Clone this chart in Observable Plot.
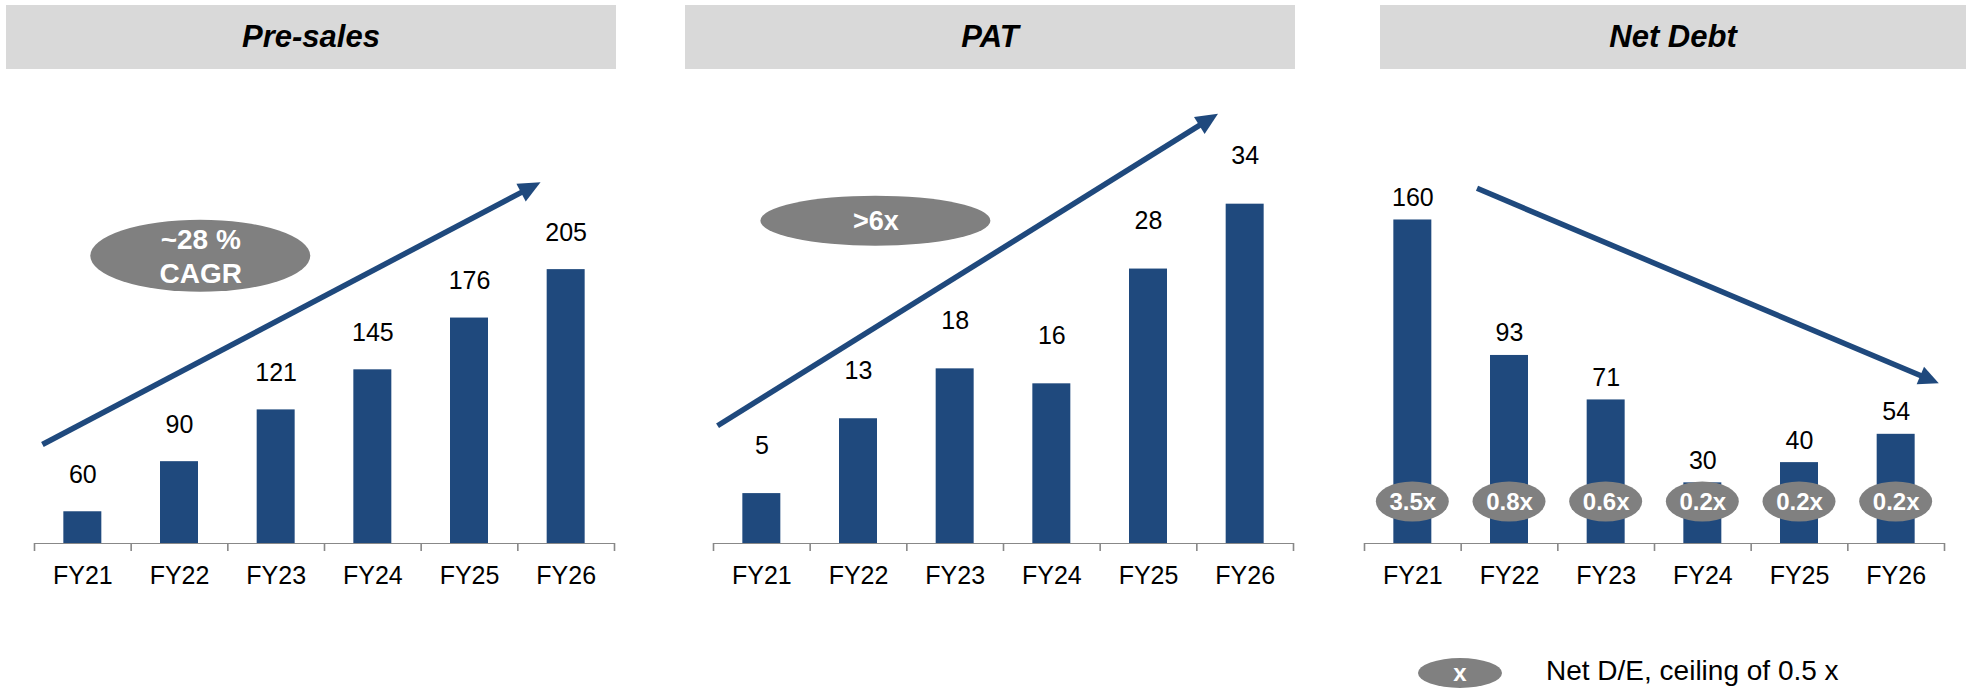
<!DOCTYPE html>
<html>
<head>
<meta charset="utf-8">
<script src="https://cdn.jsdelivr.net/npm/d3@7"></script>
<script src="https://cdn.jsdelivr.net/npm/@observablehq/plot@0.6"></script>
<style>
  html, body { margin: 0; padding: 0; background: #fff; }
  body { width: 1966px; height: 688px; position: relative; overflow: hidden;
         font-family: "Liberation Sans", Arial, sans-serif; }
  .hdr { position: absolute; top: 5px; height: 64px; background: #d9d9d9;
         display: flex; align-items: center; justify-content: center;
         font: italic bold 31px "Liberation Sans", Arial, sans-serif; color: #000; }
  .panel { position: absolute; top: 80px; }
  .panel svg { overflow: visible; }
  .panel svg [aria-label^="x-axis"] { stroke-width: 1.6px; }
  .legend-badge { position: absolute; left: 1418px; top: 658px; width: 84px; height: 30px;
         border-radius: 50%; background: #808080; color: #fff; font: bold 24px "Liberation Sans", Arial, sans-serif;
         display: flex; align-items: center; justify-content: center; }
  .legend-text { position: absolute; left: 1546px; top: 655px; font: 28px "Liberation Sans", Arial, sans-serif; color: #000; white-space: nowrap; }
</style>
</head>
<body>
<div class="hdr" style="left:6px;width:610px;">Pre-sales</div>
<div class="hdr" style="left:685px;width:610px;">PAT</div>
<div class="hdr" style="left:1380px;width:586px;">Net Debt</div>
<div id="p1" class="panel" style="left:0px;"></div>
<div id="p2" class="panel" style="left:655px;"></div>
<div id="p3" class="panel" style="left:1310px;"></div>
<div class="legend-badge">x</div>
<div class="legend-text">Net D/E, ceiling of 0.5 x</div>
<script>
// ---------- data ----------
const years = ["FY21", "FY22", "FY23", "FY24", "FY25", "FY26"];
const presales = [60, 90, 121, 145, 176, 205];
const pat = [5, 12.5, 17.5, 16, 27.5, 34];
const netDebt = [160, 93, 71, 30, 40, 54];
const netDE = [3.5, 0.8, 0.6, 0.2, 0.2, 0.2];
const presalesBadge = ["~28 %", "CAGR"];
const patBadge = [">6x"];

// annotation anchors (data units: x = year index, y = value)
const presalesArrow = [{x1: 0.087, y1: 100, x2: 5.24, y2: 257}];
const patArrow = [{x1: 0.047, y1: 11.75, x2: 5.224, y2: 43.0}];
const debtArrow = [{x1: 1.169, y1: 175.4, x2: 5.946, y2: 79}];
const presalesBadgePos = [{x: 1.72, y: 213}];
const patBadgePos = [{x: 1.68, y: 32.3}];

// ---------- styles ----------
const BAR = "#1F497D";
const GREY = "#808080";
const FONT = "Liberation Sans, Arial, sans-serif";

function pickScales(a, b) {
  return (b && typeof b.x === "function") ? b : a;
}

function ellipseMark(data, {x, y, rx, ry, dy = 0, fill = GREY}) {
  return (index, scales) => {
    const sc = pickScales(index, scales);
    const g = d3.create("svg:g");
    data.forEach((d, i) => {
      g.append("ellipse")
        .attr("cx", sc.x(x(d, i)))
        .attr("cy", sc.y(y(d, i)) + dy)
        .attr("rx", rx).attr("ry", ry)
        .attr("fill", fill);
    });
    return g.node();
  };
}

function arrowMark(data, {color = BAR, strokeWidth = 5.5, headLength = 22, headWidth = 20}) {
  return (index, scales) => {
    const sc = pickScales(index, scales);
    const g = d3.create("svg:g");
    for (const d of data) {
      const x1 = sc.x(d.x1), y1 = sc.y(d.y1), x2 = sc.x(d.x2), y2 = sc.y(d.y2);
      const L = Math.hypot(x2 - x1, y2 - y1);
      const ux = (x2 - x1) / L, uy = (y2 - y1) / L;
      const bx = x2 - ux * headLength, by = y2 - uy * headLength;
      g.append("line")
        .attr("x1", x1).attr("y1", y1)
        .attr("x2", bx + ux * 2).attr("y2", by + uy * 2)
        .attr("stroke", color).attr("stroke-width", strokeWidth);
      const hw = headWidth / 2;
      g.append("path")
        .attr("d", `M${x2},${y2}L${bx - uy * hw},${by + ux * hw}L${bx + uy * hw},${by - ux * hw}Z`)
        .attr("fill", color);
    }
    return g.node();
  };
}

function panel({values, labels, v0, vmax, width, ml, mr, labelDy, extra = []}) {
  const rows = years.map((year, i) => ({i, year, value: values[i], label: labels[i]}));
  return Plot.plot({
    width, height: 530,
    marginTop: 20, marginBottom: 67, marginLeft: ml, marginRight: mr,
    x: {type: "linear", domain: [0, years.length], ticks: years.length, tickSize: 8,
        tickFormat: () => "", line: true, label: null},
    y: {domain: [v0, vmax], axis: null},
    style: {fontFamily: FONT, color: "#888888", background: "none", overflow: "visible"},
    marks: [
      Plot.rectY(rows, {x1: d => d.i + 0.3035, x2: d => d.i + 0.6965, y1: v0, y2: "value", fill: BAR}),
      Plot.text(rows, {x: d => d.i + 0.5, y: "value", text: "label", dy: -labelDy,
                       fontSize: 25, fill: "#000"}),
      Plot.text(rows, {x: d => d.i + 0.5, y: v0, text: "year", dy: 32.5,
                       fontSize: 25, fill: "#000"}),
      ...extra
    ]
  });
}

// ---------- Panel 1: Pre-sales ----------
document.getElementById("p1").append(panel({
  values: presales, labels: presales.map(String),
  v0: 41, vmax: 41 + 443 / 1.670, width: 655, ml: 34, mr: 41, labelDy: 37,
  extra: [
    arrowMark(presalesArrow, {}),
    ellipseMark(presalesBadgePos, {x: d => d.x, y: d => d.y, rx: 110, ry: 36}),
    Plot.text(presalesBadgePos, {x: "x", y: "y", text: () => presalesBadge[0], dy: -16,
              fontSize: 28, fontWeight: "bold", fill: "#fff"}),
    Plot.text(presalesBadgePos, {x: "x", y: "y", text: () => presalesBadge[1], dy: 18,
              fontSize: 28, fontWeight: "bold", fill: "#fff"})
  ]
}));

// ---------- Panel 2: PAT ----------
document.getElementById("p2").append(panel({
  values: pat, labels: pat.map(v => String(Math.round(v))),
  v0: 0, vmax: 443 / 9.98, width: 655, ml: 58, mr: 17, labelDy: 48,
  extra: [
    arrowMark(patArrow, {}),
    ellipseMark(patBadgePos, {x: d => d.x, y: d => d.y, rx: 115, ry: 25}),
    Plot.text(patBadgePos, {x: "x", y: "y", text: () => patBadge[0],
              fontSize: 27, fontWeight: "bold", fill: "#fff"})
  ]
}));

// ---------- Panel 3: Net Debt ----------
const deRows = years.map((year, i) => ({i, de: netDE[i]}));
document.getElementById("p3").append(panel({
  values: netDebt, labels: netDebt.map(String),
  v0: 0, vmax: 443 / 2.022, width: 656, ml: 54, mr: 22, labelDy: 22,
  extra: [
    arrowMark(debtArrow, {headLength: 20, headWidth: 19}),
    ellipseMark(deRows, {x: d => d.i + 0.5, y: () => 0, dy: -41.5, rx: 36.5, ry: 20}),
    Plot.text(deRows, {x: d => d.i + 0.5, y: () => 0, dy: -41.5, text: d => d.de.toFixed(1) + "x",
              fontSize: 24, fontWeight: "bold", fill: "#fff"})
  ]
}));
</script>
</body>
</html>
